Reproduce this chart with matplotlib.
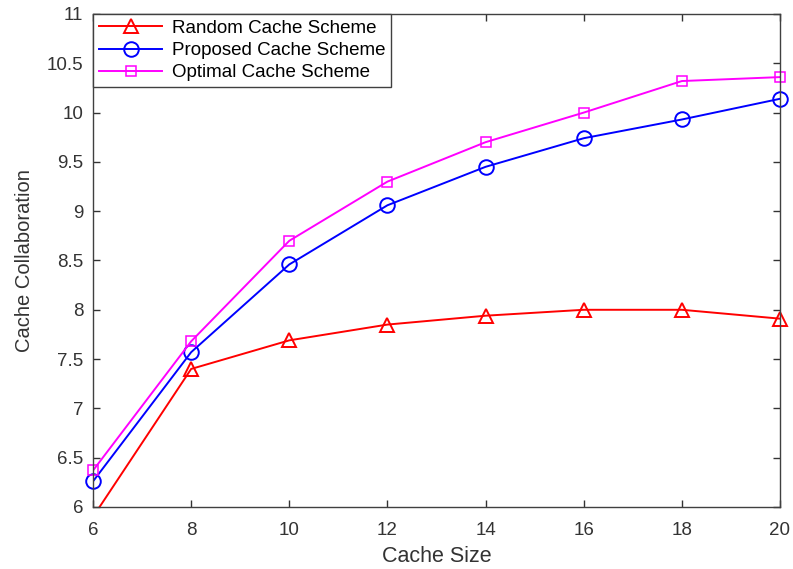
import matplotlib
matplotlib.use("Agg")
import matplotlib.pyplot as plt
import numpy as np

plt.rcParams['font.family'] = ['Liberation Sans', 'DejaVu Sans']

cache_size = [6, 8, 10, 12, 14, 16, 18, 20]
random_scheme = [5.9, 7.40, 7.69, 7.85, 7.94, 8.00, 8.00, 7.91]
proposed_scheme = [6.26, 7.57, 8.46, 9.06, 9.45, 9.74, 9.93, 10.14]
optimal_scheme = [6.37, 7.68, 8.70, 9.30, 9.70, 10.00, 10.32, 10.36]

YMIN, YMAX = 6, 11

fig = plt.figure(figsize=(7.93, 5.69), dpi=100)
ax = fig.add_axes([0.1173, 0.109, 0.8663, 0.8664])

series = [
    (random_scheme, 'red', '^', 10.5, 1.4, 'Random Cache Scheme'),
    (proposed_scheme, 'blue', 'o', 10.5, 1.4, 'Proposed Cache Scheme'),
    (optimal_scheme, 'magenta', 's', 7.5, 1.1, 'Optimal Cache Scheme'),
]
x = np.array(cache_size)
for vals, col, mk, ms, mew, lab in series:
    y = np.array(vals)
    ax.plot(x, y, color=col, linewidth=1.4, label=lab, marker=mk, markersize=ms,
            markerfacecolor='none', markeredgewidth=mew, markevery=[])
    inside = (y >= YMIN) & (y <= YMAX)
    ax.plot(x[inside], y[inside], linestyle='none', marker=mk, markersize=ms,
            markerfacecolor='none', markeredgecolor=col, markeredgewidth=mew,
            clip_on=False)

ax.set_xlim(6, 20)
ax.set_ylim(YMIN, YMAX)
ax.set_xticks(cache_size)
ax.set_yticks([6, 6.5, 7, 7.5, 8, 8.5, 9, 9.5, 10, 10.5, 11])
ax.set_yticklabels(['6', '6.5', '7', '7.5', '8', '8.5', '9', '9.5', '10', '10.5', '11'])
ax.tick_params(direction='in', top=True, right=True, labelsize=13.5, colors='#333333',
               length=5, width=1.0)
ax.tick_params(axis='y', pad=7)
ax.tick_params(axis='x', pad=11)
for s in ax.spines.values():
    s.set_color('#404040')
    s.set_linewidth(1.0)

ax.set_xlabel('Cache Size', fontsize=15.5, color='#333333', labelpad=5)
ax.set_ylabel('Cache Collaboration', fontsize=14.5, color='#333333', labelpad=9)

leg = ax.legend(loc='upper left', borderaxespad=0, fancybox=False, fontsize=13.5,
                handlelength=3.4, handletextpad=0.5, edgecolor='#404040', framealpha=1,
                borderpad=0.3, labelspacing=0.28)
leg.get_frame().set_linewidth(1.0)

fig.savefig('out.png', dpi=100)
